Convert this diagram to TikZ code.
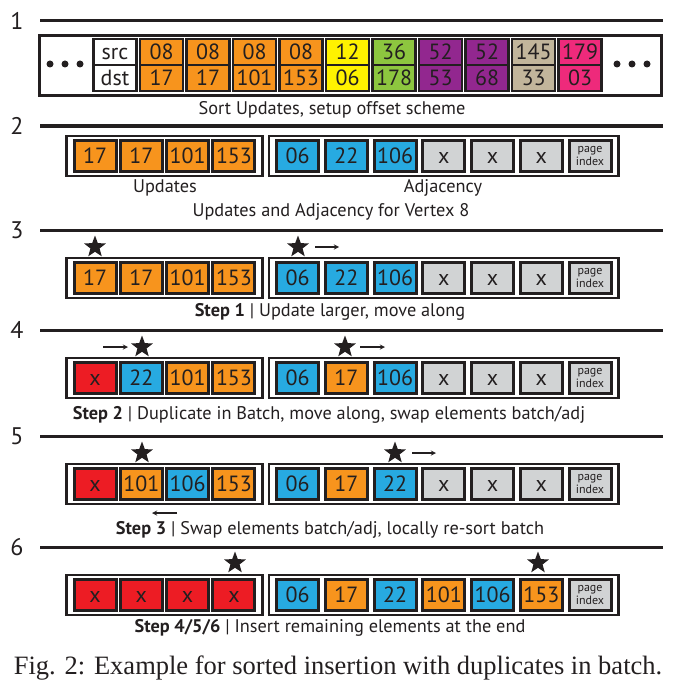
\documentclass[tikz,border=0pt]{standalone}
\usepackage{fontspec}
\setmainfont{PT Sans}
\newfontfamily\captionserif{Liberation Serif}
\usetikzlibrary{shapes,arrows,positioning,calc,fit}

\definecolor{ink}{HTML}{231F20}
\definecolor{orangecell}{HTML}{F7941D}
\definecolor{bluecell}{HTML}{27AAE1}
\definecolor{graycell}{HTML}{D1D3D4}
\definecolor{redcell}{HTML}{ED1C24}
\definecolor{yellowcell}{HTML}{FFF200}
\definecolor{greencell}{HTML}{8DC63F}
\definecolor{purplecell}{HTML}{92278F}
\definecolor{tancell}{HTML}{C2B59B}
\definecolor{pinkcell}{HTML}{EE2A7B}

\begin{document}
\begin{tikzpicture}[
    x=1pt, y=-1pt,
    every node/.style={text=ink},
    rule/.style={draw=ink, line width=3pt},
    num/.style={font=\fontsize{24}{24}\selectfont},
    note/.style={font=\fontsize{18.3}{18.3}\selectfont},
    pair/.style={rectangle, draw=ink, line width=2.5pt, outer sep=0pt, minimum width=43, minimum height=26, inner sep=0pt, text height=15.5pt, text depth=0pt, font=\fontsize{22}{22}\selectfont},
    cell/.style={rectangle, draw=ink, line width=3pt, minimum width=42, minimum height=31, inner sep=0pt, text height=15.5pt, text depth=0pt, font=\fontsize{22}{22}\selectfont},
    page/.style={cell, fill=graycell, align=center, text height={}, text depth={}, font=\fontsize{12}{11}\selectfont},
    group/.style={rectangle, draw=ink, line width=2.5pt, inner xsep=6pt, inner ysep=3pt},
    dot/.style={circle, fill=ink, minimum size=7, inner sep=0pt},
    pivot/.style={star, star points=5, star point ratio=2.4, fill=ink, minimum size=23, inner sep=0pt},
    arrow/.style={->, >=stealth, line width=1.3pt, draw=ink}
]
\useasboundingbox (0,0) rectangle (676,690);

% Section rules
\node[num] (n1) at (17,21) {1};
\node[num] (n2) at (17,126) {2};
\node[num] (n3) at (17,230) {3};
\node[num] (n4) at (17,330) {4};
\node[num] (n5) at (17,436) {5};
\node[num] (n6) at (17,547) {6};
\draw[rule] (40,21) -- (663,21);
\draw[rule] (40,126) -- (663,126);
\draw[rule] (40,230) -- (663,230);
\draw[rule] (40,330) -- (663,330);
\draw[rule] (40,436) -- (663,436);
\draw[rule] (40,547) -- (663,547);

% 1: batch of updates
\node[draw=ink, line width=3pt, minimum width=622, minimum height=60] (batch) at (350.5,65.5) {};
\node[dot] (dotl1) at (50,64) {};
\node[dot] (dotl2) at (65,64) {};
\node[dot] (dotl3) at (80,64) {};
\node[pair, fill=white] (src) at (115,52) {src};
\node[pair, fill=white, below=0pt of src] (dst) {dst};
\node[pair, fill=orangecell, right=3.5pt of src] (src1) {08};
\node[pair, fill=orangecell, below=0pt of src1] (dst1) {17};
\node[pair, fill=orangecell, right=3.5pt of src1] (src2) {08};
\node[pair, fill=orangecell, below=0pt of src2] (dst2) {17};
\node[pair, fill=orangecell, right=3.5pt of src2] (src3) {08};
\node[pair, fill=orangecell, below=0pt of src3] (dst3) {101};
\node[pair, fill=orangecell, right=3.5pt of src3] (src4) {08};
\node[pair, fill=orangecell, below=0pt of src4] (dst4) {153};
\node[pair, fill=yellowcell, right=3.5pt of src4] (src5) {12};
\node[pair, fill=yellowcell, below=0pt of src5] (dst5) {06};
\node[pair, fill=greencell, right=3.5pt of src5] (src6) {36};
\node[pair, fill=greencell, below=0pt of src6] (dst6) {178};
\node[pair, fill=purplecell, right=3.5pt of src6] (src7) {52};
\node[pair, fill=purplecell, below=0pt of src7] (dst7) {53};
\node[pair, fill=purplecell, right=3.5pt of src7] (src8) {52};
\node[pair, fill=purplecell, below=0pt of src8] (dst8) {68};
\node[pair, fill=tancell, right=3.5pt of src8] (src9) {145};
\node[pair, fill=tancell, below=0pt of src9] (dst9) {33};
\node[pair, fill=pinkcell, right=3.5pt of src9] (src10) {179};
\node[pair, fill=pinkcell, below=0pt of src10] (dst10) {03};
\node[dot] (dotr1) at (617,64) {};
\node[dot] (dotr2) at (632,64) {};
\node[dot] (dotr3) at (647,64) {};
\node[note] (cap1) at (332,110) {Sort Updates, setup offset scheme};

% 2: updates and adjacency
\node[cell, fill=orangecell] (u21) at (95,156) {17};
\node[cell, fill=orangecell, right=1.33pt of u21] (u22) {17};
\node[cell, fill=orangecell, right=1.33pt of u22] (u23) {101};
\node[cell, fill=orangecell, right=1.33pt of u23] (u24) {153};
\node[cell, fill=bluecell] (a21) at (297.5,156) {06};
\node[cell, fill=bluecell, right=3.75pt of a21] (a22) {22};
\node[cell, fill=bluecell, right=3.75pt of a22] (a23) {106};
\node[cell, fill=graycell, right=3.75pt of a23] (a24) {x};
\node[cell, fill=graycell, right=3.75pt of a24] (a25) {x};
\node[cell, fill=graycell, right=3.75pt of a25] (a26) {x};
\node[page, right=3.75pt of a26] (a27) {page\\index};
\node[group, fit=(u21)(u24)] (upd2) {};
\node[group, fit=(a21)(a27)] (adj2) {};
\node[note] (updlabel) at (165,188) {Updates};
\node[note] (adjlabel) at (443,188) {Adjacency};
\node[note] (cap2) at (331,212) {Updates and Adjacency for Vertex 8};

% 3: step 1
\node[cell, fill=orangecell] (u31) at (95,278) {17};
\node[cell, fill=orangecell, right=1.33pt of u31] (u32) {17};
\node[cell, fill=orangecell, right=1.33pt of u32] (u33) {101};
\node[cell, fill=orangecell, right=1.33pt of u33] (u34) {153};
\node[cell, fill=bluecell] (a31) at (297.5,278) {06};
\node[cell, fill=bluecell, right=3.75pt of a31] (a32) {22};
\node[cell, fill=bluecell, right=3.75pt of a32] (a33) {106};
\node[cell, fill=graycell, right=3.75pt of a33] (a34) {x};
\node[cell, fill=graycell, right=3.75pt of a34] (a35) {x};
\node[cell, fill=graycell, right=3.75pt of a35] (a36) {x};
\node[page, right=3.75pt of a36] (a37) {page\\index};
\node[group, fit=(u31)(u34)] (upd3) {};
\node[group, fit=(a31)(a37)] (adj3) {};
\node[pivot] (s31) at (95,247) {};
\node[pivot] (s32) at (298,247) {};
\coordinate (m31) at (315,247);
\coordinate (m32) at (339,247);
\draw[arrow] (m31) -- (m32);
\node[note] (cap3) at (330,312) {\textbf{Step 1} | Update larger, move along};

% 4: step 2
\node[cell, fill=redcell] (u41) at (95,378) {x};
\node[cell, fill=bluecell, right=1.33pt of u41] (u42) {22};
\node[cell, fill=orangecell, right=1.33pt of u42] (u43) {101};
\node[cell, fill=orangecell, right=1.33pt of u43] (u44) {153};
\node[cell, fill=bluecell] (a41) at (297.5,378) {06};
\node[cell, fill=orangecell, right=3.75pt of a41] (a42) {17};
\node[cell, fill=bluecell, right=3.75pt of a42] (a43) {106};
\node[cell, fill=graycell, right=3.75pt of a43] (a44) {x};
\node[cell, fill=graycell, right=3.75pt of a44] (a45) {x};
\node[cell, fill=graycell, right=3.75pt of a45] (a46) {x};
\node[page, right=3.75pt of a46] (a47) {page\\index};
\node[group, fit=(u41)(u44)] (upd4) {};
\node[group, fit=(a41)(a47)] (adj4) {};
\node[pivot] (s41) at (142,347) {};
\node[pivot] (s42) at (345,347) {};
\coordinate (m41) at (103,347);
\coordinate (m42) at (128,347);
\coordinate (m43) at (360,347);
\coordinate (m44) at (385,347);
\draw[arrow] (m41) -- (m42);
\draw[arrow] (m43) -- (m44);
\node[note] (cap4) at (329,415) {\textbf{Step 2} | Duplicate in Batch, move along, swap elements batch/adj};

% 5: step 3
\node[cell, fill=redcell] (u51) at (95,484) {x};
\node[cell, fill=orangecell, right=1.33pt of u51] (u52) {101};
\node[cell, fill=bluecell, right=1.33pt of u52] (u53) {106};
\node[cell, fill=orangecell, right=1.33pt of u53] (u54) {153};
\node[cell, fill=bluecell] (a51) at (297.5,484) {06};
\node[cell, fill=orangecell, right=3.75pt of a51] (a52) {17};
\node[cell, fill=bluecell, right=3.75pt of a52] (a53) {22};
\node[cell, fill=graycell, right=3.75pt of a53] (a54) {x};
\node[cell, fill=graycell, right=3.75pt of a54] (a55) {x};
\node[cell, fill=graycell, right=3.75pt of a55] (a56) {x};
\node[page, right=3.75pt of a56] (a57) {page\\index};
\node[group, fit=(u51)(u54)] (upd5) {};
\node[group, fit=(a51)(a57)] (adj5) {};
\node[pivot] (s51) at (142,453) {};
\node[pivot] (s52) at (395,453) {};
\coordinate (m51) at (412,453);
\coordinate (m52) at (436,453);
\coordinate (m53) at (177,513);
\coordinate (m54) at (152,513);
\draw[arrow] (m51) -- (m52);
\draw[arrow] (m53) -- (m54);
\node[note] (cap5) at (330,530) {\textbf{Step 3} | Swap elements batch/adj, locally re-sort batch};

% 6: steps 4-6
\node[cell, fill=redcell] (u61) at (95,595) {x};
\node[cell, fill=redcell, right=1.33pt of u61] (u62) {x};
\node[cell, fill=redcell, right=1.33pt of u62] (u63) {x};
\node[cell, fill=redcell, right=1.33pt of u63] (u64) {x};
\node[cell, fill=bluecell] (a61) at (297.5,595) {06};
\node[cell, fill=orangecell, right=3.75pt of a61] (a62) {17};
\node[cell, fill=bluecell, right=3.75pt of a62] (a63) {22};
\node[cell, fill=orangecell, right=3.75pt of a63] (a64) {101};
\node[cell, fill=bluecell, right=3.75pt of a64] (a65) {106};
\node[cell, fill=orangecell, right=3.75pt of a65] (a66) {153};
\node[page, right=3.75pt of a66] (a67) {page\\index};
\node[group, fit=(u61)(u64)] (upd6) {};
\node[group, fit=(a61)(a67)] (adj6) {};
\node[pivot] (s61) at (235,563) {};
\node[pivot] (s62) at (538,563) {};
\node[note] (cap6) at (330,628) {\textbf{Step 4/5/6} | Insert remaining elements at the end};

% Caption
\node[font=\captionserif\fontsize{26.5}{26.5}\selectfont] (figcap) at (338,668) {Fig. 2: Example for sorted insertion with duplicates in batch.};

\end{tikzpicture}
\end{document}
